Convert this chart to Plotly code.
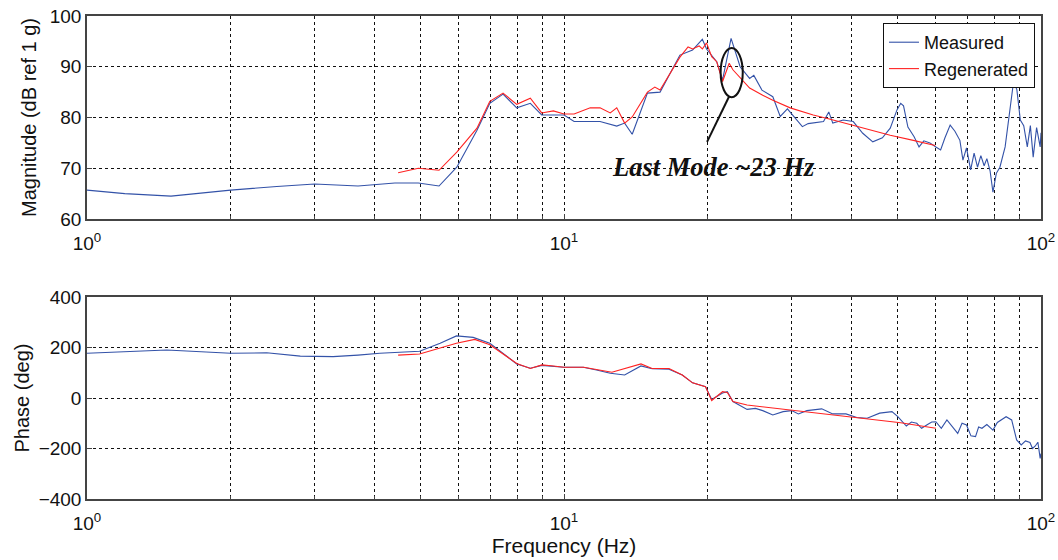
import plotly.graph_objects as go
import numpy as np

# ---------------- data ----------------
meas_mag_f = [1.0, 1.2, 1.5, 2.0, 2.5, 3.0, 3.7, 4.0, 4.42, 4.95, 5.47, 5.96, 6.57, 6.99, 7.45, 7.96,
              8.5, 8.98, 10.0, 10.5, 11.9, 12.9, 13.4, 13.9, 14.96, 15.9, 17.5, 18.6, 19.5, 19.9,
              20.9, 21.5, 22.4, 23.4, 24.5, 25.0, 26.0, 27.4, 28.4, 29.4, 31.6, 32.5, 33.9, 35.0,
              35.9, 36.6, 38.5, 40.4, 42.3, 44.4, 46.5, 48.3, 49.9, 50.8, 51.5, 52.6, 54.2, 55.5,
              56.8, 58.5, 60.2, 61.6, 62.9, 64.5, 66.0, 67.6, 68.6, 69.8, 71.2, 72.4, 73.6, 74.8,
              76.0, 77.0, 78.2, 79.3, 80.6, 82.0, 84.1, 86.2, 87.6, 89.0, 90.5, 92.0, 93.6, 95.0,
              96.3, 97.9, 99.6, 100.0]
meas_mag = [65.7, 65.0, 64.5, 65.7, 66.4, 66.9, 66.5, 66.8, 67.1, 67.1, 66.5, 70.2, 77.5, 82.8, 84.6, 81.9,
            82.8, 80.5, 80.5, 79.2, 79.2, 78.3, 78.9, 76.7, 84.8, 85.0, 92.3, 93.3, 95.4, 93.5,
            91.0, 87.4, 95.6, 90.0, 87.7, 88.3, 85.4, 84.1, 80.2, 81.7, 78.2, 78.8, 79.0, 79.2,
            81.1, 78.9, 79.5, 79.2, 76.9, 75.2, 76.0, 77.9, 81.5, 82.8, 82.3, 78.1, 76.2, 74.2,
            75.4, 75.0, 74.2, 73.6, 76.0, 78.5, 77.3, 75.5, 71.6, 74.0, 69.7, 73.0, 70.2, 72.5,
            70.5, 71.9, 69.5, 65.3, 69.0, 70.2, 74.2, 81.5, 87.1, 85.5, 79.5, 78.4, 74.2, 78.4,
            72.2, 78.0, 74.2, 77.0]

regen_mag_f = [4.49, 4.95, 5.47, 5.96, 6.57, 6.99, 7.45, 7.96, 8.5, 8.98, 9.5, 10.0, 10.5, 11.35,
               11.9, 12.5, 12.9, 13.4, 13.9, 14.96, 15.5, 15.9, 17.5, 18.2, 18.6, 19.2, 19.5, 19.9,
               20.4, 20.9, 21.5, 22.2, 22.6, 24.5, 26.1, 27.4, 29.8, 33.3, 36.0, 41.1, 48.3, 54.0, 60.0]
regen_mag = [69.1, 70.0, 69.6, 73.2, 77.9, 83.2, 84.8, 82.6, 83.8, 80.9, 81.3, 80.7, 80.7, 81.9,
             81.9, 80.9, 81.9, 78.9, 80.1, 85.0, 86.0, 85.4, 91.9, 93.9, 93.5, 94.1, 93.5, 94.7,
             92.0, 91.0, 87.1, 90.7, 89.4, 85.8, 84.4, 83.4, 81.9, 80.5, 79.7, 78.3, 76.5, 75.5, 74.5]

meas_ph_f = [1.0, 1.2, 1.47, 2.0, 2.38, 2.8, 3.28, 3.7, 4.11, 4.98, 5.5, 5.95, 6.45, 6.99, 7.45, 7.96,
             8.5, 8.99, 9.98, 10.97, 11.7, 12.5, 13.4, 14.5, 15.3, 16.6, 17.7, 18.6, 19.8, 20.4,
             20.9, 21.5, 22.0, 22.6, 24.2, 25.2, 26.1, 27.4, 28.8, 30.0, 31.0, 32.3, 34.7, 36.6,
             39.0, 41.1, 43.2, 45.9, 48.7, 50.1, 52.2, 53.5, 54.9, 56.2, 57.6, 59.0, 60.2, 61.8,
             63.5, 65.0, 66.9, 68.3, 69.8, 71.3, 72.9, 74.0, 75.2, 77.0, 79.3, 81.0, 84.5, 86.8,
             88.9, 90.9, 92.8, 94.8, 96.0, 97.3, 98.5, 99.6, 100.0]
meas_ph = [177, 184, 190, 177, 179, 166, 164, 170, 177, 185, 217, 246, 240, 217, 177, 135,
           118, 129, 122, 122, 111, 98, 91, 127, 116, 114, 91, 60, 45, -6,
           6, 20, 25, -14, -45, -41, -50, -67, -54, -50, -63, -50, -43, -63,
           -63, -77, -80, -60, -54, -74, -111, -95, -100, -120, -107, -95, -94, -120,
           -87, -110, -140, -100, -107, -150, -153, -115, -120, -105, -127, -97, -74, -87,
           -166, -186, -170, -176, -200, -190, -175, -239, -220]

regen_ph_f = [4.49, 4.98, 5.95, 6.5, 6.99, 7.96, 8.5, 8.99, 9.5, 10.0, 11.0, 12.6, 14.5, 15.3, 16.6,
              17.7, 18.6, 19.8, 20.4, 21.5, 22.0, 22.6, 24.2, 30.0, 39.8, 50.8, 60.2]
regen_ph = [170, 174, 217, 232, 211, 137, 117, 131, 127, 122, 122, 102, 135, 117, 117,
            91, 60, 45, -10, 25, 22, -14, -28, -48, -74, -98, -120]

series_names = ["Measured", "Regenerated"]
x_major_vals = [1, 10, 100]
x_major_text = ["10<sup>0</sup>", "10<sup>1</sup>", "10<sup>2</sup>"]
x_minor_vals = [2, 3, 4, 5, 6, 7, 8, 9, 20, 30, 40, 50, 60, 70, 80, 90]
mag_ticks = [60, 70, 80, 90, 100]
ph_ticks = [-400, -200, 0, 200, 400]
annotation_text = "Last Mode ~23 Hz"

# ---------------- styles ----------------
BLUE = "#3352a8"
RED = "#ff2222"
FONT = "Liberation Sans, Arial, sans-serif"

fig = go.Figure()
fig.add_trace(go.Scatter(x=meas_mag_f, y=meas_mag, mode="lines", name=series_names[0],
                         line=dict(color=BLUE, width=1.1), xaxis="x", yaxis="y"))
fig.add_trace(go.Scatter(x=regen_mag_f, y=regen_mag, mode="lines", name=series_names[1],
                         line=dict(color=RED, width=1.1), xaxis="x", yaxis="y"))
fig.add_trace(go.Scatter(x=meas_ph_f, y=meas_ph, mode="lines", name=series_names[0], showlegend=False,
                         line=dict(color=BLUE, width=1.1), xaxis="x2", yaxis="y2"))
fig.add_trace(go.Scatter(x=regen_ph_f, y=regen_ph, mode="lines", name=series_names[1], showlegend=False,
                         line=dict(color=RED, width=1.1), xaxis="x2", yaxis="y2"))

axis_common = dict(showline=True, mirror=True, linecolor="#444", linewidth=1.5,
                   showgrid=True, gridcolor="#111", griddash="3px,3px", gridwidth=1,
                   ticks="inside", ticklen=5, tickcolor="#444", zeroline=False,
                   automargin=False, ticklabeloverflow="allow",
                   tickfont=dict(family=FONT, size=19, color="#111"))

xcommon = dict(axis_common, type="log", range=[0, 2], tickmode="array",
               tickvals=x_major_vals, ticktext=x_major_text, ticklabelstandoff=6,
               minor=dict(tickmode="array", tickvals=x_minor_vals, showgrid=True,
                          gridcolor="#111", griddash="3px,3px", gridwidth=1,
                          ticks="inside", ticklen=3, tickcolor="#444"))

fig.update_layout(
    width=1058, height=560,
    margin=dict(l=87, r=17, t=16, b=61),
    paper_bgcolor="white", plot_bgcolor="white",
    xaxis=dict(xcommon, anchor="y", domain=[0, 1]),
    yaxis=dict(axis_common, domain=[0.5797, 1], range=[60, 100], tickvals=mag_ticks,
               anchor="x",
               title=dict(text="Magnitude (dB ref 1 g)", standoff=8,
                          font=dict(family=FONT, size=20, color="#111"))),
    xaxis2=dict(xcommon, anchor="y2", domain=[0, 1],
                title=dict(text="Frequency (Hz)", standoff=4,
                           font=dict(family=FONT, size=21, color="#111"))),
    yaxis2=dict(axis_common, domain=[0, 0.4182], range=[-400, 400], tickvals=ph_ticks,
                anchor="x2",
                title=dict(text="Phase (deg)", standoff=4,
                           font=dict(family=FONT, size=20, color="#111"))),
    legend=dict(x=0.9937, xanchor="right", y=0.9855, yanchor="top",
                bgcolor="white", bordercolor="#111", borderwidth=1,
                font=dict(family=FONT, size=18, color="#111"),
                itemwidth=30, tracegroupgap=0),
    showlegend=True,
)

# ellipse marking the last mode (in data units; shapes on log axes use data values)
fig.add_shape(type="circle", xref="x", yref="y", x0=21.3, x1=23.7, y0=84.0, y1=93.7,
              line=dict(color="#111", width=2))
fig.add_shape(type="line", xref="x", yref="y", x0=22.2, y0=84.2, x1=19.95, y1=75.2,
              line=dict(color="#111", width=2))
fig.add_annotation(x=np.log10(20.6), y=70.2, xref="x", yref="y", text="<b><i>" + annotation_text + "</i></b>",
                   showarrow=False, font=dict(family="Liberation Serif, Times New Roman, serif", size=26.5, color="#111"))

# remove the browser's default 8 px body margin so the figure sits at the page origin
fig.write_html("out.html", config={"displayModeBar": False},
               post_script="document.body.style.margin='0px';")
